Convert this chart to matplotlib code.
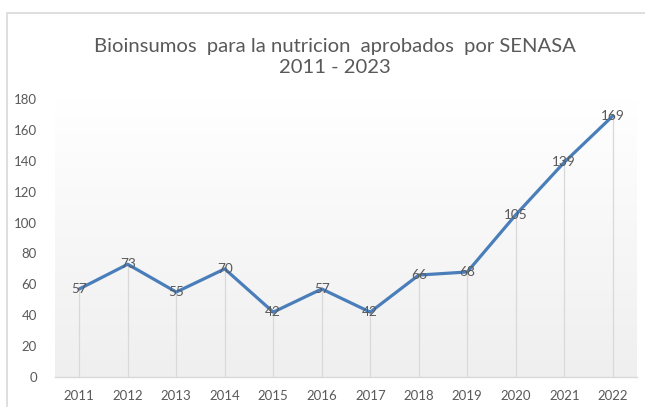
import numpy as np
import matplotlib
matplotlib.use("Agg")
import matplotlib.pyplot as plt
from matplotlib.patches import Rectangle

years = ["2011", "2012", "2013", "2014", "2015", "2016",
         "2017", "2018", "2019", "2020", "2021", "2022"]
approved = [57, 73, 55, 70, 42, 57, 42, 66, 68, 105, 139, 169]
yticks = [0, 20, 40, 60, 80, 100, 120, 140, 160, 180]

title = "Bioinsumos  para la nutricion  aprobados  por SENASA\n2011 - 2023"

plt.rcParams["font.family"] = ["Lato", "DejaVu Sans"]
text_col = "#595959"
line_col = "#4a7ebb"

W, H = 645, 407
fig = plt.figure(figsize=(W / 100, H / 100), dpi=100)
fig.patch.set_facecolor("white")

# chart frame (runs off the right and bottom edges)
fig.add_artist(Rectangle((7 / W, -0.05), 1.0, (H - 13) / H + 0.05,
                         transform=fig.transFigure, fill=False,
                         edgecolor="#d9d9d9", linewidth=1.2))

ax = fig.add_axes([55 / W, 30 / H, (637 - 55) / W, (377 - 99) / H])
x = np.arange(len(years))
ax.set_xlim(-0.5, len(years) - 0.5)
ax.set_ylim(0, 180)

# plot-area gradient: white at the top fading to light grey at the bottom
grad = np.linspace(0.0, 1.0, 256).reshape(-1, 1)
ax.imshow(grad, extent=(-0.5, len(years) - 0.5, 0, 180), aspect="auto",
          cmap=matplotlib.colors.LinearSegmentedColormap.from_list(
              "bg", ["#ffffff", "#efefef"]),
          vmin=0, vmax=1, origin="upper", zorder=0)

# drop lines from each point to the category axis
ax.vlines(x, 0, approved, color="#d9d9d9", linewidth=0.9, zorder=1)

ax.plot(x, approved, color=line_col, linewidth=2.3, solid_capstyle="round",
        zorder=2)

for xi, v in zip(x, approved):
    ax.text(xi, v, str(v), ha="center", va="center", fontsize=9.8,
            color=text_col, zorder=3)

ax.set_xticks(x)
ax.set_xticklabels(years)
ax.set_yticks(yticks)
ax.tick_params(axis="both", length=0, labelsize=9.5, labelcolor=text_col)
ax.tick_params(axis="x", pad=9)
ax.tick_params(axis="y", pad=13)
for s in ["top", "right", "left"]:
    ax.spines[s].set_visible(False)
ax.spines["bottom"].set_color("#d9d9d9")
ax.spines["bottom"].set_linewidth(1.0)

fig.text(335 / W, 1 - 57 / H, title, ha="center", va="center",
         fontsize=14.6, color=text_col, linespacing=1.35)

fig.savefig("out.png", dpi=100)
